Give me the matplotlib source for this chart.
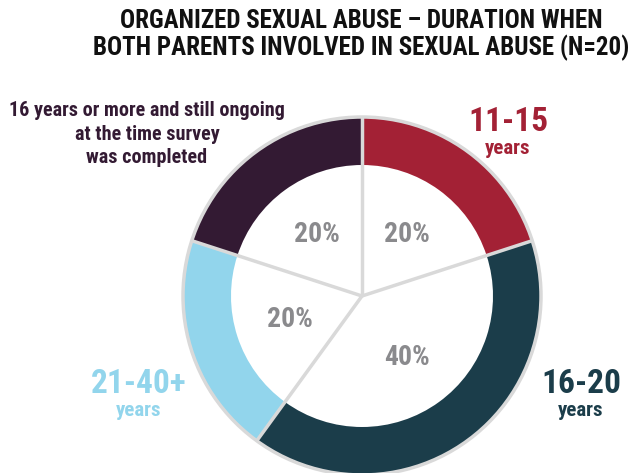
import numpy as np
import matplotlib.pyplot as plt

plt.rcParams["font.family"] = ["Roboto Condensed", "DejaVu Sans"]
plt.rcParams["font.weight"] = "bold"

# data
labels = ["11-15", "16-20", "21-40+", "16 years or more and still ongoing\nat the time survey\nwas completed"]
shares = [20, 40, 20, 20]
colors = ["#a32135", "#1b3d4a", "#92d5ec", "#331a33"]

fig = plt.figure(figsize=(6.31, 4.73), dpi=100)
ax = fig.add_axes([0, 0, 1, 1])

cx, cy, R, ring = 362, 177, 179, 48

# coloured outer ring
ax.pie(shares, colors=colors, startangle=90, counterclock=False,
       center=(cx, cy), radius=R, wedgeprops=dict(width=ring, linewidth=0),
       frame=True)
ax.set_xlim(0, 631)
ax.set_ylim(0, 473)
ax.set_aspect("equal")
ax.axis("off")

# outline and dividers
grey = "#d9d9d9"
ax.add_patch(plt.Circle((cx, cy), R, fill=False, ec=grey, lw=2.5, zorder=3))
bounds = 90 - 360 * np.concatenate([[0], np.cumsum(shares)]) / sum(shares)
for a in bounds[:-1]:
    t = np.radians(a)
    ax.plot([cx, cx + R * np.cos(t)], [cy, cy + R * np.sin(t)], color=grey, lw=2.5,
            solid_capstyle="butt", zorder=3)

# percentages
mids = (bounds[:-1] + bounds[1:]) / 2
for s, a in zip(shares, mids):
    t = np.radians(a)
    ax.text(cx + 76 * np.cos(t), cy + 76 * np.sin(t), f"{s}%", ha="center", va="center",
            fontsize=20, color="#8a8a8d", zorder=4)

H = 473
ax.text(361, H - 21, "ORGANIZED SEXUAL ABUSE – DURATION WHEN", ha="center", va="center",
        fontsize=18, color="#111111")
ax.text(361, H - 48, "BOTH PARENTS INVOLVED IN SEXUAL ABUSE (N=20)", ha="center", va="center",
        fontsize=18, color="#111111")

ax.text(147, H - 134, labels[3], ha="center", va="center", fontsize=14.5,
        color=colors[3], linespacing=1.3)

for lab, col, x, y in [(labels[0], colors[0], 508, 122), (labels[1], colors[1], 581, 384),
                       (labels[2], colors[2], 139, 384)]:
    ax.text(x, H - y, lab, ha="center", va="center", fontsize=24, color=col)
    ax.text(x, H - y - 27, "years", ha="center", va="center", fontsize=15, color=col)

fig.savefig("out.png", dpi=100)
